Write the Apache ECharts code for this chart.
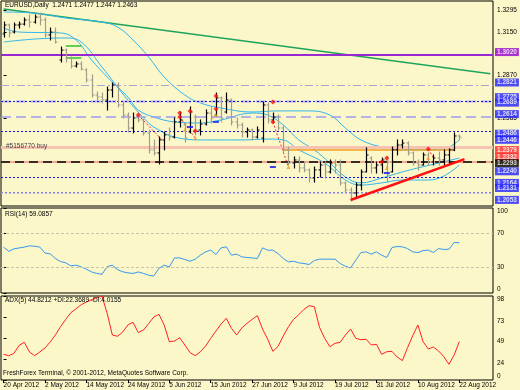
<!DOCTYPE html>
<html><head><meta charset="utf-8">
<script src="https://cdn.jsdelivr.net/npm/echarts@6/dist/echarts.min.js"></script>
<style>html,body{margin:0;padding:0;background:#fcf7c9;} #c{width:520px;height:390px;}</style>
</head><body><div id="c"></div>
<script>
// ---- data ----
const dateLabels = ['20 Apr 2012','2 May 2012','14 May 2012','24 May 2012','5 Jun 2012','15 Jun 2012','27 Jun 2012','9 Jul 2012','19 Jul 2012','31 Jul 2012','10 Aug 2012','22 Aug 2012'];
const dateIdx = [0,8,16,24,32,40,48,56,64,72,80,88];
const priceTicks = [1.3295, 1.3150, 1.2870, 1.2585];
const opens  = [1.3138,1.3197,1.3151,1.3197,1.3203,1.3230,1.3216,1.3249,1.3230,1.3132,1.3151,1.2968,1.3033,1.2981,1.2929,1.2942,1.2903,1.2837,1.2739,1.2726,1.2706,1.2772,1.2805,1.2674,1.2608,1.2523,1.2589,1.2576,1.2491,1.2380,1.2360,1.2445,1.2478,1.2464,1.2563,1.2543,1.2497,1.2595,1.2510,1.2549,1.2621,1.2608,1.2720,1.2628,1.2706,1.2563,1.2543,1.2497,1.2510,1.2464,1.2458,1.2674,1.2576,1.2595,1.2523,1.2380,1.2294,1.2314,1.2262,1.2249,1.2196,1.2249,1.2281,1.2236,1.2294,1.2281,1.2164,1.2118,1.2098,1.2150,1.2236,1.2327,1.2262,1.2281,1.2314,1.2236,1.2380,1.2412,1.2425,1.2360,1.2294,1.2281,1.2347,1.2301,1.2327,1.2314,1.2347,1.2380,1.2471];
const closes = [1.3197,1.3145,1.3197,1.3203,1.3230,1.3216,1.3249,1.3230,1.3132,1.3151,1.3086,1.3033,1.2981,1.2929,1.2942,1.2909,1.2837,1.2739,1.2726,1.2706,1.2772,1.2805,1.2674,1.2608,1.2523,1.2589,1.2576,1.2491,1.2380,1.2360,1.2445,1.2478,1.2464,1.2563,1.2576,1.2458,1.2628,1.2510,1.2549,1.2621,1.2589,1.2720,1.2589,1.2706,1.2563,1.2543,1.2497,1.2510,1.2464,1.2510,1.2674,1.2576,1.2595,1.2523,1.2380,1.2294,1.2314,1.2262,1.2249,1.2196,1.2249,1.2281,1.2236,1.2294,1.2281,1.2164,1.2118,1.2098,1.2150,1.2236,1.2347,1.2262,1.2281,1.2314,1.2216,1.2380,1.2412,1.2425,1.2360,1.2294,1.2281,1.2347,1.2301,1.2327,1.2314,1.2347,1.2380,1.2471,1.2463];
const lows   = [1.3118,1.3118,1.3145,1.3177,1.3197,1.3184,1.3210,1.3197,1.3118,1.3099,1.3079,1.2955,1.2955,1.2916,1.2922,1.2903,1.2824,1.2726,1.2706,1.2687,1.2641,1.2726,1.2661,1.2589,1.2497,1.2491,1.2563,1.2478,1.2360,1.2347,1.2288,1.2380,1.2445,1.2458,1.2530,1.2432,1.2491,1.2478,1.2478,1.2543,1.2556,1.2602,1.2563,1.2621,1.2543,1.2523,1.2464,1.2464,1.2445,1.2458,1.2432,1.2556,1.2563,1.2510,1.2366,1.2281,1.2262,1.2236,1.2236,1.2170,1.2170,1.2203,1.2196,1.2229,1.2229,1.2150,1.2105,1.2046,1.2072,1.2118,1.2236,1.2229,1.2229,1.2229,1.2170,1.2236,1.2347,1.2393,1.2347,1.2281,1.2249,1.2281,1.2281,1.2281,1.2281,1.2281,1.2281,1.2375,1.2447];
const highs  = [1.3216,1.3203,1.3210,1.3216,1.3243,1.3262,1.3262,1.3275,1.3243,1.3177,1.3177,1.3053,1.3040,1.2988,1.2955,1.2955,1.2910,1.2870,1.2759,1.2752,1.2791,1.2818,1.2818,1.2687,1.2621,1.2621,1.2621,1.2580,1.2510,1.2445,1.2464,1.2497,1.2523,1.2589,1.2628,1.2556,1.2661,1.2608,1.2576,1.2641,1.2661,1.2752,1.2726,1.2752,1.2713,1.2589,1.2556,1.2523,1.2517,1.2530,1.2693,1.2687,1.2621,1.2608,1.2536,1.2399,1.2334,1.2334,1.2301,1.2255,1.2268,1.2301,1.2301,1.2314,1.2314,1.2314,1.2170,1.2131,1.2164,1.2249,1.2393,1.2334,1.2301,1.2327,1.2334,1.2399,1.2445,1.2445,1.2432,1.2366,1.2314,1.2360,1.2360,1.2347,1.2366,1.2380,1.2386,1.2491,1.2477];
const maSlow = [[0,1.3282],[6,1.3275],[12,1.3243],[19,1.3216],[22,1.3184],[25,1.3099],[28,1.2988],[31,1.2857],[35,1.2739],[38,1.2687],[42,1.2654],[48,1.2628],[53,1.2635],[59,1.2635],[63,1.2608],[66,1.2523],[69,1.2445],[73,1.2399],[77,1.2380],[82,1.2380],[85,1.2386],[88,1.2445]];
const maMid  = [[0,1.3177],[3,1.3151],[11,1.3145],[14,1.3099],[17,1.2968],[20,1.2857],[24,1.2726],[26,1.2641],[29,1.2595],[33,1.2563],[38,1.2556],[42,1.2576],[48,1.2621],[51,1.2608],[54,1.2543],[57,1.2445],[60,1.2380],[63,1.2294],[66,1.2203],[69,1.2164],[73,1.2196],[77,1.2236],[80,1.2262],[84,1.2294],[88,1.2327]];
const maFast = [[0,1.3086],[6,1.3105],[12,1.3112],[15,1.3086],[19,1.2922],[24,1.2706],[28,1.2556],[30,1.2510],[33,1.2464],[38,1.2445],[46,1.2445],[51,1.2451],[54,1.2445],[57,1.2380],[62,1.2294],[66,1.2183],[69,1.2150],[73,1.2164],[77,1.2183],[82,1.2183],[85,1.2209],[88,1.2281]];
const levels = [1.3020, 1.2821, 1.2725, 1.2689, 1.2614, 1.2496, 1.2486, 1.2446, 1.2379, 1.2332, 1.2293, 1.2240, 1.2164, 1.2131, 1.2053];
const greenTrend = [[0,1.3302],[94,1.2878]];
const redTrend = [[67,1.2052],[89,1.2320]];
const orangeSeg = [[54,1.2379],[87,1.2379]];
const greenTop = [[12,1.3060],[15,1.3060]];
const greenBot = [[12,1.2981],[15,1.2981]];
const tradeLines = [[[26,1.2608],[30.6,1.2445]],[[34,1.2595],[37,1.2458]],[[52,1.2563],[55,1.2268]],[[82,1.2386],[83,1.2327]]];
const redMarks = [[26,1.2608],[34,1.2621],[34,1.2595],[36,1.2635],[37,1.2504],[41,1.2733],[41,1.2648],[52,1.2693],[52,1.2563],[73,1.2301],[74,1.2327],[82,1.2386]];
const blueMarks = [[36,1.2530],[41,1.2563],[52,1.2268],[74,1.2229]];
const orangeMarks = [[35,1.2510],[37,1.2458],[41,1.2608],[55,1.2268],[74,1.2262],[82,1.2327]];
const rsi = [54,49,52,53,54,55.5,55,54,47,46,40.6,37,35.5,32,32.7,30.7,28,24.8,23,22,31,32.7,27.5,25,23.7,23,24.8,23,21,20,29,32.7,30.7,41.3,41.3,39.4,37.4,39.8,44.5,48.4,50.4,45.3,53.1,54.3,44.5,45.7,42.5,41.8,41.3,40.6,53.1,50.4,50.4,46.4,40.6,36.6,37.4,35.5,34.7,33.5,38.2,39.8,39.8,39.8,39.8,34.7,31.5,29.5,38.6,47.6,48.4,45.7,48.4,44.5,41.8,53.5,54.7,54.3,52.3,48.4,47.6,49.9,50.4,47.6,52.3,51.2,51.5,59.4,59.0857];
const rsiLevels = [70, 30];
const rsiTicks = [0, 30, 70, 100];
const adx = [30,28.4,31.1,40.4,44,32.7,28.4,32.7,37.4,44.4,52.5,62.2,70.8,78.6,83.2,87.9,91,93.7,96,98,77.8,52.5,51,56,64.2,67.3,55.3,58.3,65.7,73.5,76.6,64.2,44.7,45.5,49.4,40.8,32,28.4,33,39.6,48.6,57.1,65.3,72,60.3,52.5,60.7,66.1,70.8,75,59.5,47.5,33.4,39.3,51.3,62.2,70.8,76.2,82.4,86.7,85.5,61.5,48.6,38.9,42.8,44,52.5,59.5,48.6,47,47.5,40.8,41.6,30,33,33.4,26.8,22.6,37.7,51.7,64.2,44.7,36.2,38.5,33.8,27.2,18.3,29.2,44.8212];
const adxTicks = [0, 24, 49, 73, 98];

// ---- chart ----
const FONT = 'Liberation Sans';
const FS = 6.5;
const chart = echarts.init(document.getElementById('c'), null, {renderer: 'canvas'});

const levelStyles = [
  {color:'#9a28d0', width:2, type:'solid'},
  {color:'#a8a4dc', width:1.2, type:[8,3,2,3]},
  {color:'#c6c4ea', width:2.5, type:[10,5]},
  {color:'#1010f0', width:1, type:[2,2]},
  {color:'#9e9cf0', width:1.5, type:[10,5]},
  {color:'#1010f0', width:1, type:[2,2]},
  {color:'#1010f0', width:1, type:[2,2]},
  {color:'#1010f0', width:1, type:[2,2]},
  {color:'#f6c2b2', width:3, type:'solid'},
  {color:'#f0907c', width:1.5, type:'solid'},
  {color:'#000000', width:1.5, type:[9,5]},
  {color:'#1010f0', width:1, type:[2,2]},
  {color:'#1010f0', width:1, type:[2,2]},
  {color:'#1010f0', width:1, type:[2,2]},
  {color:'#aaa4e4', width:1.5, type:[2,2]}
];
const labelBg = ['#9400d3','#2020ff','#2020ff','#2020ff','#2020ff',null,'#2020ff','#2020ff','#ff2a2a','#ff2a2a','#000000','#2020ff','#2020ff','#2020ff','#2020ff'];

const levelLines = levels.map((v, k) => ({yAxis: v, lineStyle: levelStyles[k]}));
const levelTags = [];
levels.forEach((v, k) => {
  if (!labelBg[k]) return;
  levelTags.push({value: [94.5, v], label: {backgroundColor: labelBg[k]}});
});

const ohlcData = opens.map((o, i) => [i, o, closes[i], lows[i], highs[i]]);

function renderOHLC(params, api) {
  const i = api.value(0), o = api.value(1), c = api.value(2), l = api.value(3), h = api.value(4);
  const pl = api.coord([i, l]), ph = api.coord([i, h]), po = api.coord([i, o]), pc = api.coord([i, c]);
  const x = Math.round(pl[0]) + 0.5;
  const color = c >= o ? '#000000' : '#9e9e8a';
  return {type: 'group', children: [
    {type: 'line', shape: {x1: x, y1: pl[1] + 0.5, x2: x, y2: ph[1] - 0.5}, style: {stroke: color, lineWidth: 1.2}},
    {type: 'line', shape: {x1: x - 2, y1: po[1], x2: x, y2: po[1]}, style: {stroke: color, lineWidth: 1}},
    {type: 'line', shape: {x1: x, y1: pc[1], x2: x + 2, y2: pc[1]}, style: {stroke: color, lineWidth: 1}}
  ]};
}

const gridL = 1, gridR = 27;
const xBase = {type: 'value', min: -0.5, max: 94.5, splitLine: {show: false}, axisLine: {show: false},
  axisTick: {show: false}, axisLabel: {show: false}};

function lineS(data, color, width, extra) {
  return Object.assign({type: 'line', xAxisIndex: 0, yAxisIndex: 0, data: data, symbol: 'none',
    lineStyle: {color: color, width: width}, silent: true, z: 2}, extra || {});
}

const series = [];
series.push(lineS(greenTrend, '#1fa35c', 1.6, {
  markLine: {silent: true, symbol: ['none', 'none'], animation: false, label: {show: false}, data: levelLines}
}));
series.push(lineS(maSlow, '#2fb6ee', 1, {smooth: 0.4}));
series.push(lineS(maMid, '#2fb6ee', 1, {smooth: 0.4}));
series.push(lineS(maFast, '#2fb6ee', 1, {smooth: 0.4}));
series.push(lineS(orangeSeg, '#f0a020', 1.5));
series.push(lineS(greenTop, '#30c030', 1.5));
series.push(lineS(greenBot, '#30c030', 1.5));
tradeLines.forEach(seg => series.push(lineS(seg, '#ff2020', 1, {lineStyle: {color: '#ff2020', width: 1, type: [2, 2]}})));
series.push(lineS(redTrend, '#ff1010', 2.5, {z: 6}));
series.push({type: 'custom', xAxisIndex: 0, yAxisIndex: 0, data: ohlcData, renderItem: renderOHLC,
  encode: {x: 0, y: [1, 2, 3, 4]}, z: 5, silent: true, clip: true});
series.push({type: 'scatter', xAxisIndex: 0, yAxisIndex: 0, data: redMarks, symbol: 'diamond', symbolSize: 5,
  itemStyle: {color: '#ff1010'}, z: 7, silent: true});
series.push({type: 'scatter', xAxisIndex: 0, yAxisIndex: 0, data: blueMarks, symbol: 'rect', symbolSize: [6, 2],
  itemStyle: {color: '#1010ff'}, z: 7, silent: true});
series.push({type: 'scatter', xAxisIndex: 0, yAxisIndex: 0, data: orangeMarks, symbol: 'triangle', symbolSize: 4,
  itemStyle: {color: '#f0a020'}, z: 7, silent: true});
// right-hand price tags for the level lines
series.push({type: 'scatter', xAxisIndex: 0, yAxisIndex: 0, data: levelTags, symbolSize: 1, clip: false,
  itemStyle: {color: 'rgba(0,0,0,0)'}, z: 20, silent: true, labelLayout: {hideOverlap: false},
  label: {show: true, position: 'right', distance: 1.5, formatter: p => p.value[1].toFixed(4),
    color: '#ffffff', fontSize: FS, fontWeight: 'bold', fontFamily: FONT, padding: [1, 2, 0, 2], lineHeight: 7}});
// RSI
series.push({type: 'line', xAxisIndex: 1, yAxisIndex: 1, data: rsi.map((v, i) => [i, v]), symbol: 'none',
  lineStyle: {color: '#3399ee', width: 1}, silent: true,
  markLine: {silent: true, symbol: ['none', 'none'], animation: false, label: {show: false},
    lineStyle: {color: '#c8c4aa', width: 1, type: [3, 2]},
    data: rsiLevels.map(v => ({yAxis: v}))}});
// ADX
series.push({type: 'line', xAxisIndex: 2, yAxisIndex: 2, data: adx.map((v, i) => [i, v]), symbol: 'none',
  lineStyle: {color: '#ff2020', width: 1}, silent: true});

const axLabel = {fontSize: FS, fontFamily: FONT, color: '#000', showMinLabel: true, showMaxLabel: true, hideOverlap: false};

const option = {
  animation: false,
  backgroundColor: '#fcf7c9',
  textStyle: {fontFamily: FONT, fontSize: FS},
  grid: [
    {left: gridL, right: gridR, top: 1, height: 205, show: true, borderColor: '#000', borderWidth: 1, backgroundColor: 'transparent'},
    {left: gridL, right: gridR, top: 208, height: 85, show: true, borderColor: '#000', borderWidth: 1, backgroundColor: 'transparent'},
    {left: gridL, right: gridR, top: 296, height: 84, show: true, borderColor: '#000', borderWidth: 1, backgroundColor: 'transparent'}
  ],
  xAxis: [
    Object.assign({}, xBase, {gridIndex: 0}),
    Object.assign({}, xBase, {gridIndex: 1}),
    Object.assign({}, xBase, {gridIndex: 2,
      axisTick: {show: true, customValues: dateIdx, length: 3, lineStyle: {color: '#000'}},
      axisLabel: Object.assign({show: true, customValues: dateIdx, align: 'left', margin: 2,
        formatter: v => dateLabels[dateIdx.indexOf(v)] || ''}, axLabel)})
  ],
  yAxis: [
    {type: 'value', gridIndex: 0, position: 'right', min: 1.2013, max: 1.3354, splitLine: {show: false},
      axisLine: {show: false},
      axisTick: {show: true, customValues: priceTicks, length: 3, lineStyle: {color: '#000'}},
      axisLabel: Object.assign({customValues: priceTicks, margin: 4, formatter: v => v.toFixed(4)}, axLabel)},
    {type: 'value', gridIndex: 1, position: 'right', min: 0, max: 100, splitLine: {show: false},
      axisLine: {show: false},
      axisTick: {show: true, customValues: rsiTicks, length: 3, lineStyle: {color: '#000'}},
      axisLabel: Object.assign({customValues: rsiTicks, margin: 4, verticalAlignMaxLabel: 'top', verticalAlignMinLabel: 'bottom'}, axLabel)},
    {type: 'value', gridIndex: 2, position: 'right', min: 0, max: 98, splitLine: {show: false},
      axisLine: {show: false},
      axisTick: {show: true, customValues: adxTicks, length: 3, lineStyle: {color: '#000'}},
      axisLabel: Object.assign({customValues: adxTicks, margin: 4, verticalAlign: 'top', verticalAlignMaxLabel: 'top', verticalAlignMinLabel: 'bottom'}, axLabel)}
  ],
  graphic: [
    {type: 'text', left: 5, top: 2, silent: true, z: 100,
      style: {text: 'EURUSD,Daily  1.2471 1.2477 1.2447 1.2463', fontSize: FS, fontFamily: FONT, fill: '#000'}},
    {type: 'text', left: 6, top: 143, silent: true, z: 100,
      style: {text: '#5156770 buy', fontSize: FS, fontFamily: FONT, fill: '#444'}},
    {type: 'text', left: 5, top: 211, silent: true, z: 100,
      style: {text: 'RSI(14) 59.0857', fontSize: FS, fontFamily: FONT, fill: '#000'}},
    {type: 'text', left: 5, top: 297, silent: true, z: 100,
      style: {text: 'ADX(5) 44.8212 +DI:22.3689 -DI:4.0155', fontSize: FS, fontFamily: FONT, fill: '#000'}},
    {type: 'text', left: 3, top: 370, silent: true, z: 100,
      style: {text: 'FreshForex Terminal, \u00a9 2001-2012, MetaQuotes Software Corp.', fontSize: FS, fontFamily: FONT, fill: '#000'}}
  ],
  series: series
};
chart.setOption(option);
</script></body></html>
